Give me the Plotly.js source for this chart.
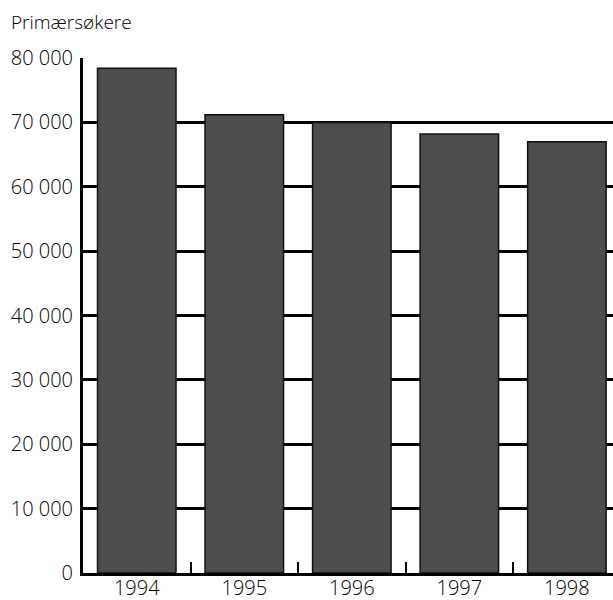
<!DOCTYPE html>
<html>
<head>
<meta charset="utf-8">
<script src="https://cdn.plot.ly/plotly-3.0.1.min.js"></script>
<style>html,body{margin:0;padding:0;overflow:hidden;background:#fff}</style>
</head>
<body>
<div id="chart" style="width:613px;height:600px"></div>
<script>
const years = ['1994', '1995', '1996', '1997', '1998'];
const applicants = [78400, 71200, 70000, 68200, 67000];
const yTicks = [0, 10000, 20000, 30000, 40000, 50000, 60000, 70000, 80000];
const yTickLabels = ['0', '10 000', '20 000', '30 000', '40 000', '50 000', '60 000', '70 000', '80 000'];
const yTitle = 'Primærsøkere';

const font = 'Open Sans, Noto Sans, sans-serif';

Plotly.newPlot('chart', [{
  type: 'bar',
  x: years,
  y: applicants,
  width: 0.73,
  marker: {color: '#4d4d4d', line: {color: '#111111', width: 1.5}},
  hoverinfo: 'x+y'
}], {
  width: 613,
  height: 600,
  margin: {l: 83, r: 0, t: 58, b: 27},
  paper_bgcolor: '#ffffff',
  plot_bgcolor: '#ffffff',
  showlegend: false,
  title: {
    text: yTitle,
    x: 11 / 613, xanchor: 'left', xref: 'container',
    y: 1 - 22 / 600, yanchor: 'middle', yref: 'container',
    font: {family: font, size: 19, weight: 300, color: '#000'}
  },
  xaxis: {
    type: 'category',
    range: [-0.5, 4.429],
    showline: true, linecolor: '#000', linewidth: 3,
    showgrid: false, zeroline: false,
    ticks: 'inside', tickson: 'boundaries', ticklen: 11, tickwidth: 2, tickcolor: '#000',
    ticklabelstandoff: -5,
    tickfont: {family: font, size: 20, weight: 300, color: '#000'},
    fixedrange: true
  },
  yaxis: {
    range: [0, 80000],
    tickvals: yTicks, ticktext: yTickLabels,
    showline: true, linecolor: '#000', linewidth: 3,
    showgrid: true, gridcolor: '#000', gridwidth: 3,
    zeroline: false,
    ticks: 'outside', ticklen: 3, tickcolor: 'rgba(0,0,0,0)',
    tickfont: {family: font, size: 20, weight: 300, color: '#000'},
    fixedrange: true
  }
}, {displayModeBar: false, staticPlot: true});
</script>
</body>
</html>
